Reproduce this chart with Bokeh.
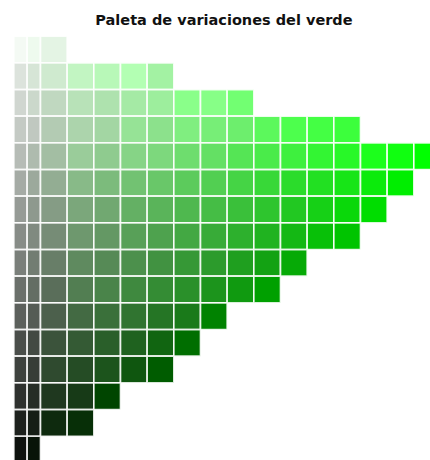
from bokeh.plotting import figure
from bokeh.models import Range1d, Label, ColumnDataSource
from bokeh.embed import file_html
from bokeh.resources import INLINE

title_text = "Paleta de variaciones del verde"

# colours of each row (lightest row first); the first two columns are narrow
row1 = ["#F4FAF4", "#EEFAEE", "#E4F4E4"]
row2 = ["#DCE3DC", "#D6E5D6", "#CFEACF", "#C2F5C2", "#B8F8B8", "#B3FFB3", "#A3F2A3"]
row3 = ["#D0D6D0", "#CBD8CB", "#C0D8C0", "#B8E2B8", "#AEE2AE", "#A5EAA5", "#9DEE9D",
        "#8AFF8A", "#87FF87", "#72FF72"]
row4 = ["#C4CAC4", "#C0C8C0", "#B3CBB3", "#ACD4AC", "#A3D6A3", "#96E396", "#8CE18C",
        "#80EE80", "#77EE77", "#6DEE6D", "#5CF85C", "#4DFF4D", "#44FF44", "#3CFF3C"]
row5 = ["#B6BCB6", "#AEBBAE", "#A3BEA3", "#9ACC9A", "#8FCB8F", "#86D486", "#7DD87D",
        "#6EDD6E", "#64E064", "#55E555", "#4AEB4A", "#3EF03E", "#33F533", "#28F828",
        "#1CFF1C", "#10FF10", "#00FF00"]
row6 = ["#A5ABA5", "#9CA99C", "#93AD93", "#88BA88", "#7CBB7C", "#72C272", "#69C769",
        "#5CCB5C", "#52CF52", "#45D445", "#38D838", "#2BDC2B", "#22E022", "#17E517",
        "#0BEB0B", "#00EE00"]
row7 = ["#969B96", "#8E998E", "#859C85", "#7BA77B", "#71A871", "#64B064", "#5AB45A",
        "#4FB84F", "#45BD45", "#3AC03A", "#2EC52E", "#22C822", "#16D016", "#0AD80A",
        "#00DD00"]
row8 = ["#878C87", "#808A80", "#768C76", "#6E986E", "#649864", "#58A058", "#4EA24E",
        "#43A843", "#38AB38", "#2DB02D", "#20B320", "#14B814", "#08C008", "#00C400"]
row9 = ["#7A7F7A", "#727D72", "#687E68", "#5F8A5F", "#568A56", "#4C904C", "#419241",
        "#369836", "#2C9B2C", "#1F9F1F", "#13A213", "#06AA06"]
row10 = ["#6B706B", "#646E64", "#5A6E5A", "#527E52", "#4A844A", "#3F893F", "#348C34",
         "#2A902A", "#1C941C", "#109A10", "#00A000"]
row11 = ["#5C605C", "#555C55", "#4C604C", "#436A43", "#3A703A", "#307430", "#257525",
         "#1A7A1A", "#008200"]
row12 = ["#4A4E4A", "#434A43", "#3B533B", "#345A34", "#2A5F2A", "#1F621F", "#116511",
         "#006E00"]
row13 = ["#3E423E", "#373D37", "#2F4A2F", "#254C25", "#1C541C", "#0F560F", "#005C00"]
row14 = ["#2E312E", "#262D26", "#1F381F", "#173A17", "#004500"]
row15 = ["#1D211D", "#161E16", "#0E2A0E", "#072F07"]
row16 = ["#0E120E", "#081408"]

rows = [row1, row2, row3, row4, row5, row6, row7, row8,
        row9, row10, row11, row12, row13, row14, row15, row16]

left, right, top, bottom, colors = [], [], [], [], []
for r, row in enumerate(rows):
    for j, c in enumerate(row):
        if j == 0:
            l, rr = 0.0, 0.5
        elif j == 1:
            l, rr = 0.5, 1.0
        else:
            l, rr = j - 1.0, float(j)
        left.append(l)
        right.append(rr)
        top.append(float(r))
        bottom.append(r + 1.0)
        colors.append(c)

src = ColumnDataSource(dict(left=left, right=right, top=top, bottom=bottom, color=colors))

p = figure(width=430, height=460, output_backend="svg", toolbar_location=None,
           x_range=Range1d(-0.5, 15.625), y_range=Range1d(15.91, -1.3386),
           x_axis_location=None, y_axis_location=None, min_border=0)
p.grid.visible = False
p.outline_line_color = None
p.background_fill_color = "white"
p.border_fill_color = "white"

p.quad(left="left", right="right", top="top", bottom="bottom", source=src,
       fill_color="color", line_color="white", line_width=1.7, line_alpha=0.85)

p.add_layout(Label(x=7.88, y=-0.61, text=title_text, text_align="center",
                   text_baseline="middle", text_font="DejaVu Sans",
                   text_font_style="bold", text_font_size="14.5px",
                   text_color="#111111"))

open("out.html", "w").write(file_html(p, INLINE))
